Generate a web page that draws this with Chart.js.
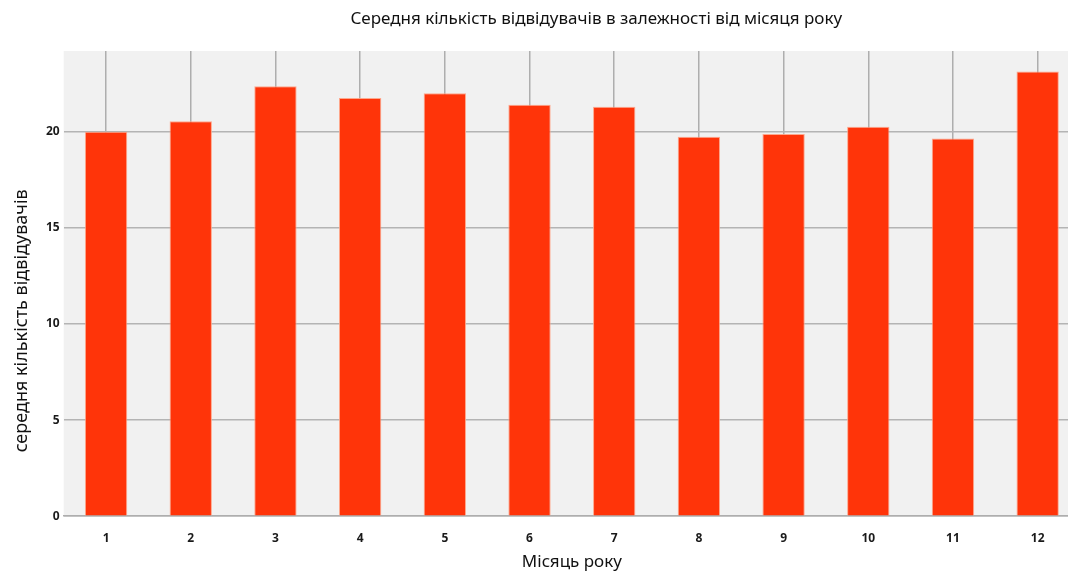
<!DOCTYPE html>
<html lang="uk">
<head>
<meta charset="utf-8">
<title>Середня кількість відвідувачів</title>
<script src="https://cdn.jsdelivr.net/npm/chart.js@4/dist/chart.umd.min.js"></script>
<style>
    html, body { margin: 0; padding: 0; background: #ffffff; overflow: hidden; }
    #wrap { width: 1080px; height: 573px; }
</style>
</head>
<body>
<div id="wrap"><canvas id="visitorsChart" width="1080" height="573"></canvas></div>
<script>
// Months of the year and average visitor counts
const months = ['1', '2', '3', '4', '5', '6', '7', '8', '9', '10', '11', '12'];
const avgVisitors = [20.0, 20.55, 22.36, 21.75, 22.0, 21.4, 21.3, 19.74, 19.88, 20.26, 19.65, 23.14];
const yTicks = [0, 5, 10, 15, 20];

const chartTitle = 'Середня кількість відвідувачів в залежності від місяця року';
const yTitle = 'середня кількість відвідувачів';

const FONT = '"Noto Sans", "Open Sans", sans-serif';

// Grey fill behind the plot area
const plotBackground = {
    id: 'plotBackground',
    beforeDraw(chart) {
        const { ctx, chartArea: a } = chart;
        ctx.save();
        ctx.fillStyle = '#f1f1f1';
        ctx.fillRect(a.left, a.top, a.right - a.left, a.bottom - a.top);
        ctx.restore();
    }
};

// Chart title and rotated y title, placed relative to the plot area
const headings = {
    id: 'headings',
    afterDraw(chart) {
        const { ctx, chartArea: a } = chart;
        ctx.save();
        ctx.fillStyle = '#111111';
        ctx.textAlign = 'center';
        ctx.textBaseline = 'middle';
        ctx.font = '17px ' + FONT;
        ctx.fillText(chartTitle, a.left + (a.right - a.left) * 0.524, 19);
        ctx.translate(22, a.top + (a.bottom - a.top) * 0.58);
        ctx.rotate(-Math.PI / 2);
        ctx.font = '18px ' + FONT;
        ctx.fillText(yTitle, 0, 0);
        ctx.restore();
    }
};

const ctx = document.getElementById('visitorsChart').getContext('2d');
new Chart(ctx, {
    type: 'bar',
    data: {
        labels: months,
        datasets: [{
            label: yTitle,
            data: avgVisitors,
            backgroundColor: '#ff3409',
            borderColor: 'rgba(255, 160, 130, 0.9)',
            borderWidth: 1,
            barPercentage: 0.5,
            categoryPercentage: 1.0
        }]
    },
    options: {
        responsive: false,
        animation: false,
        devicePixelRatio: 1,
        layout: { padding: { left: 42, right: 0, top: 51, bottom: 1 } },
        plugins: {
            legend: { display: false },
            tooltip: { enabled: false },
            title: { display: false }
        },
        scales: {
            x: {
                grid: {
                    offset: false,
                    color: '#aeaeae',
                    lineWidth: 1.5,
                    drawTicks: false
                },
                border: { display: true, color: '#aeaeae', width: 1.5 },
                ticks: {
                    color: '#1a1a1a',
                    font: { family: FONT, size: 12, weight: 'bold' },
                    padding: 15,
                    maxRotation: 0
                },
                title: {
                    display: true,
                    text: 'Місяць року',
                    color: '#111111',
                    font: { family: FONT, size: 17 },
                    padding: { top: -9, bottom: 0 }
                }
            },
            y: {
                min: 0,
                max: 24.2,
                afterBuildTicks(axis) {
                    axis.ticks = yTicks.map(v => ({ value: v }));
                },
                grid: {
                    color: '#b4b4b4',
                    lineWidth: 1.5,
                    drawTicks: false
                },
                border: { display: false },
                ticks: {
                    color: '#1a1a1a',
                    font: { family: FONT, size: 12, weight: 'bold' },
                    padding: 4
                }
            }
        }
    },
    plugins: [plotBackground, headings]
});
</script>
</body>
</html>
